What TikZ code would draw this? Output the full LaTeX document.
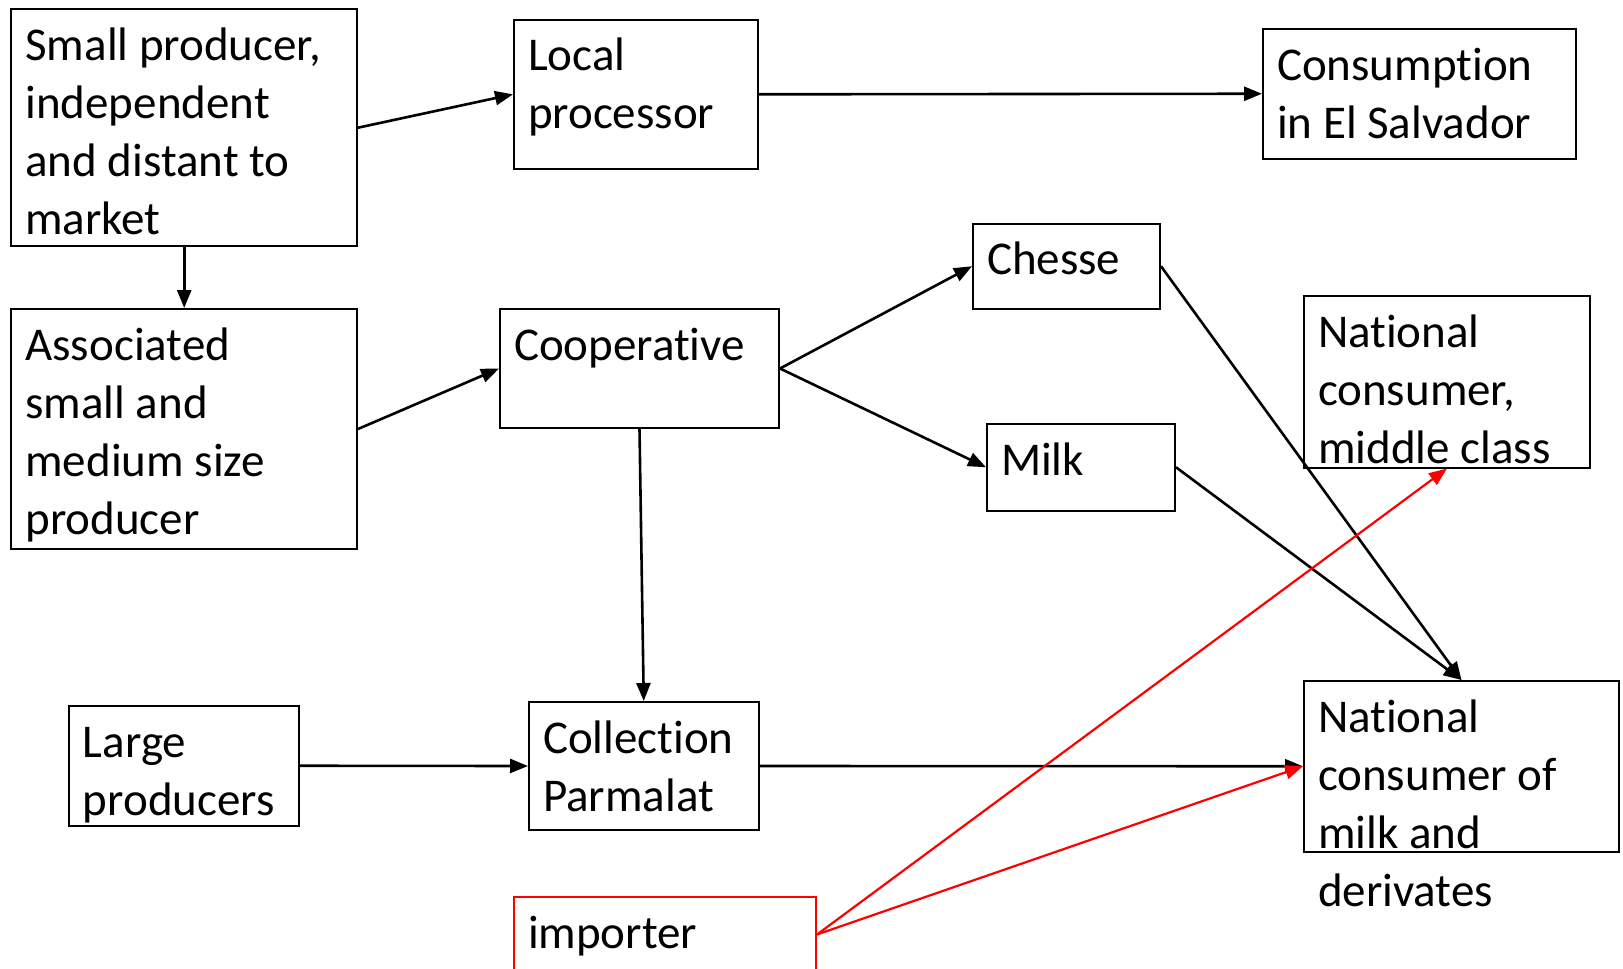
\documentclass[tikz,border=0pt]{standalone}
\usepackage{fontspec}
\setmainfont[Ligatures=NoCommon]{Carlito}
\usetikzlibrary{arrows.meta}

% text box, top aligned, fixed size
\newcommand{\cellbox}[3]{\parbox[t][#2][t]{#1}{\strut#3}}

\begin{document}
\begin{tikzpicture}[x=0.5pt, y=-0.5pt,
  box/.style={draw, line width=1pt, anchor=north west, inner xsep=7pt, inner ysep=5.2pt,
    font=\fontsize{23.5}{29}\selectfont},
  flow/.style={-{Triangle[length=9pt, width=7pt]}, line width=1.3pt},
  imp/.style={flow, red, line width=1.1pt}]
\useasboundingbox (0,0) rectangle (1623,969);

% producers
\node[box] (small) at (10.4,8.3) {\cellbox{158.8pt}{108pt}{Small producer,\\independent\\and distant to\\market}};
\node[box] (assoc) at (10.4,308) {\cellbox{158.8pt}{109.6pt}{Associated\\small and\\medium size\\producer}};
\node[box] (large) at (68,705) {\cellbox{101pt}{49.35pt}{Large\\producers}};

% processing
\node[box] (local) at (513,18.6) {\cellbox{108pt}{64.3pt}{Local\\processor}};
\node[box] (coop) at (499,308) {\cellbox{125.5pt}{49.1pt}{Cooperative}};
\node[box] (collect) at (528,701) {\cellbox{100.75pt}{53.6pt}{Collection\\Parmalat}};
\node[box, draw=red] (importer) at (513,896) {\cellbox{137pt}{27.1pt}{importer}};
\node[box] (chesse) at (972,222.5) {\cellbox{79.5pt}{32.35pt}{Chesse}};
\node[box] (milk) at (986,423) {\cellbox{80pt}{32.85pt}{Milk}};

% consumers
\node[box] (consum) at (1262,28) {\cellbox{142.5pt}{54.35pt}{Consumption\\in El Salvador}};
\node[box] (natmid) at (1303,295) {\cellbox{129pt}{75.35pt}{National\\consumer,\\middle class}};
\node[box] (natmilk) at (1303,680) {\cellbox{143.5pt}{74.85pt}{National\\consumer of\\milk and\\derivates}};

% flows
\draw[flow] (small.east) -- (local.west);
\draw[flow] (local.east) -- (consum.west);
\draw[flow] (small.south) -- (assoc.north);
\draw[flow] (assoc.east) -- (coop.west);
\draw[flow] (coop.east) -- (chesse.west);
\draw[flow] (coop.east) -- (milk.west);
\draw[flow] (coop.south) -- (collect.north);
\draw[flow] (large.east) -- (collect.west);
\draw[flow] (collect.east) -- (natmilk.west);
\draw[flow] (chesse.east) -- (natmilk.north);
\draw[flow] (milk.east) -- (natmilk.north);
\draw[imp] (importer.east) -- (natmid.south);
\draw[imp] (importer.east) -- (natmilk.west);
\end{tikzpicture}
\end{document}
